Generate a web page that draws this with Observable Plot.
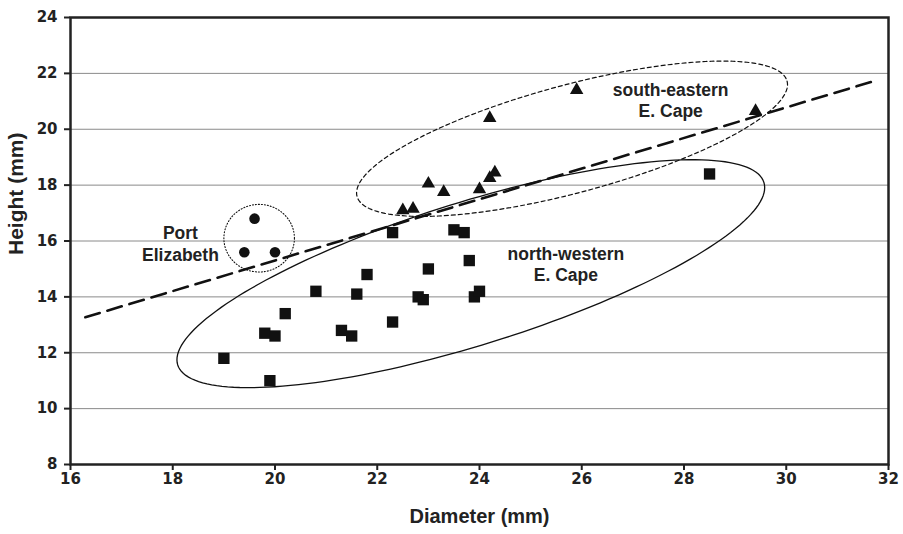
<!DOCTYPE html>
<html>
<head>
<meta charset="utf-8">
<script src="https://cdn.jsdelivr.net/npm/d3@7"></script>
<script src="https://cdn.jsdelivr.net/npm/@observablehq/plot@0.6"></script>
<style>
  html, body { margin: 0; padding: 0; background: #fff; }
  #chart svg { display: block; }
</style>
</head>
<body>
<div id="chart"></div>
<script>
// ---- data ----
const xTicks = [16, 18, 20, 22, 24, 26, 28, 30, 32];
const yTicks = [8, 10, 12, 14, 16, 18, 20, 22, 24];
const gridY = [10, 12, 14, 16, 18, 20, 22];

// north-western E. Cape (squares)
const nwDiameter = [19.0, 19.9, 19.8, 20.0, 20.2, 20.8, 21.3, 21.5, 21.6, 21.8, 22.3, 22.3, 22.8, 22.9, 23.0, 23.5, 23.7, 23.8, 23.9, 24.0, 28.5];
const nwHeight   = [11.8, 11.0, 12.7, 12.6, 13.4, 14.2, 12.8, 12.6, 14.1, 14.8, 13.1, 16.3, 14.0, 13.9, 15.0, 16.4, 16.3, 15.3, 14.0, 14.2, 18.4];

// south-eastern E. Cape (triangles)
const seDiameter = [22.5, 22.7, 23.0, 23.3, 24.0, 24.2, 24.3, 24.2, 25.9, 29.4];
const seHeight   = [17.1, 17.15, 18.05, 17.75, 17.85, 18.25, 18.45, 20.4, 21.4, 20.65];

// Port Elizabeth (circles)
const peDiameter = [19.6, 19.4, 20.0];
const peHeight   = [16.8, 15.6, 15.6];

// regression line (end points)
const regX = [16.29, 31.71];
const regY = [13.27, 21.72];

// group envelopes: centre and two semi-axis vectors (data units)
const ellName = ["se", "nw", "pe"];
const ellCx = [25.81, 23.83, 19.69];
const ellCy = [19.66, 14.83, 16.10];
const ellAx = [4.206, 5.733, 0.69];
const ellAy = [2.063, 3.266, 0];
const ellBx = [0.273, 0.416, 0];
const ellBy = [-1.864, -2.443, 1.21];

// annotations
const labText = ["Port", "Elizabeth", "south-eastern", "E. Cape", "north-western", "E. Cape"];
const labX = [18.15, 18.15, 27.74, 27.74, 25.69, 25.69];
const labY = [16.27, 15.48, 21.39, 20.65, 15.52, 14.77];

// ---- build tables ----
const toRows = (xs, ys) => xs.map((x, i) => ({x, y: ys[i]}));
const nw = toRows(nwDiameter, nwHeight);
const se = toRows(seDiameter, seHeight);
const pe = toRows(peDiameter, peHeight);
const reg = toRows(regX, regY);
const labels = labText.map((t, i) => ({t, x: labX[i], y: labY[i]}));

function ellipse(k) {
  const pts = [];
  for (let i = 0; i <= 180; i++) {
    const t = (i / 180) * 2 * Math.PI;
    pts.push({
      x: ellCx[k] + Math.cos(t) * ellAx[k] + Math.sin(t) * ellBx[k],
      y: ellCy[k] + Math.cos(t) * ellAy[k] + Math.sin(t) * ellBy[k]
    });
  }
  return pts;
}
const eSE = ellipse(ellName.indexOf("se"));
const eNW = ellipse(ellName.indexOf("nw"));
const ePE = ellipse(ellName.indexOf("pe"));

const tickFont = {fontFamily: "DejaVu Sans", fontWeight: "bold", fontSize: 15, fill: "#222"};

const chart = Plot.plot({
  width: 903,
  height: 534,
  marginLeft: 70,
  marginRight: 15,
  marginTop: 17,
  marginBottom: 70,
  style: {fontFamily: "'Liberation Sans', Arial, sans-serif", background: "#fff", color: "#222"},
  x: {domain: [16, 32]},
  y: {domain: [8, 24]},
  marks: [
    Plot.ruleY(gridY, {stroke: "#8a8a8a", strokeWidth: 1}),
    Plot.axisX({ticks: xTicks, tickSize: 6, tickFormat: () => "", label: null, stroke: "#222", strokeWidth: 2}),
    Plot.axisY({ticks: yTicks, tickSize: 6, tickFormat: () => "", label: null, stroke: "#222", strokeWidth: 2}),
    Plot.text(xTicks, {x: d => d, frameAnchor: "bottom", dy: 19, text: d => String(d), ...tickFont}),
    Plot.text(yTicks, {y: d => d, frameAnchor: "left", dx: -13, textAnchor: "end", text: d => String(d), ...tickFont}),
    Plot.line(eNW, {x: "x", y: "y", stroke: "#111", strokeWidth: 1.3}),
    Plot.line(eSE, {x: "x", y: "y", stroke: "#111", strokeWidth: 1.2, strokeDasharray: "4,3"}),
    Plot.line(ePE, {x: "x", y: "y", stroke: "#111", strokeWidth: 1.1, strokeDasharray: "1,2"}),
    Plot.line(reg, {x: "x", y: "y", stroke: "#111", strokeWidth: 2.6, strokeDasharray: "15,8"}),
    Plot.dot(nw, {x: "x", y: "y", symbol: "square", r: 6.4, fill: "#111"}),
    Plot.dot(se, {x: "x", y: "y", symbol: "triangle", r: 5, fill: "#111"}),
    Plot.dot(pe, {x: "x", y: "y", symbol: "circle", r: 5.3, fill: "#111"}),
    Plot.text(labels, {x: "x", y: "y", text: "t", fontSize: 17.5, fontWeight: "bold", fill: "#222"}),
    Plot.frame({stroke: "#222", strokeWidth: 2.5}),
    Plot.text(["Diameter (mm)"], {frameAnchor: "bottom", dy: 58, fontSize: 20, fontWeight: "bold", fill: "#222"}),
    Plot.text(["Height (mm)"], {frameAnchor: "left", dx: -54, dy: 14, rotate: -90, fontSize: 21, fontWeight: "bold", fill: "#222"})
  ]
});
document.getElementById("chart").appendChild(chart);
</script>
</body>
</html>
